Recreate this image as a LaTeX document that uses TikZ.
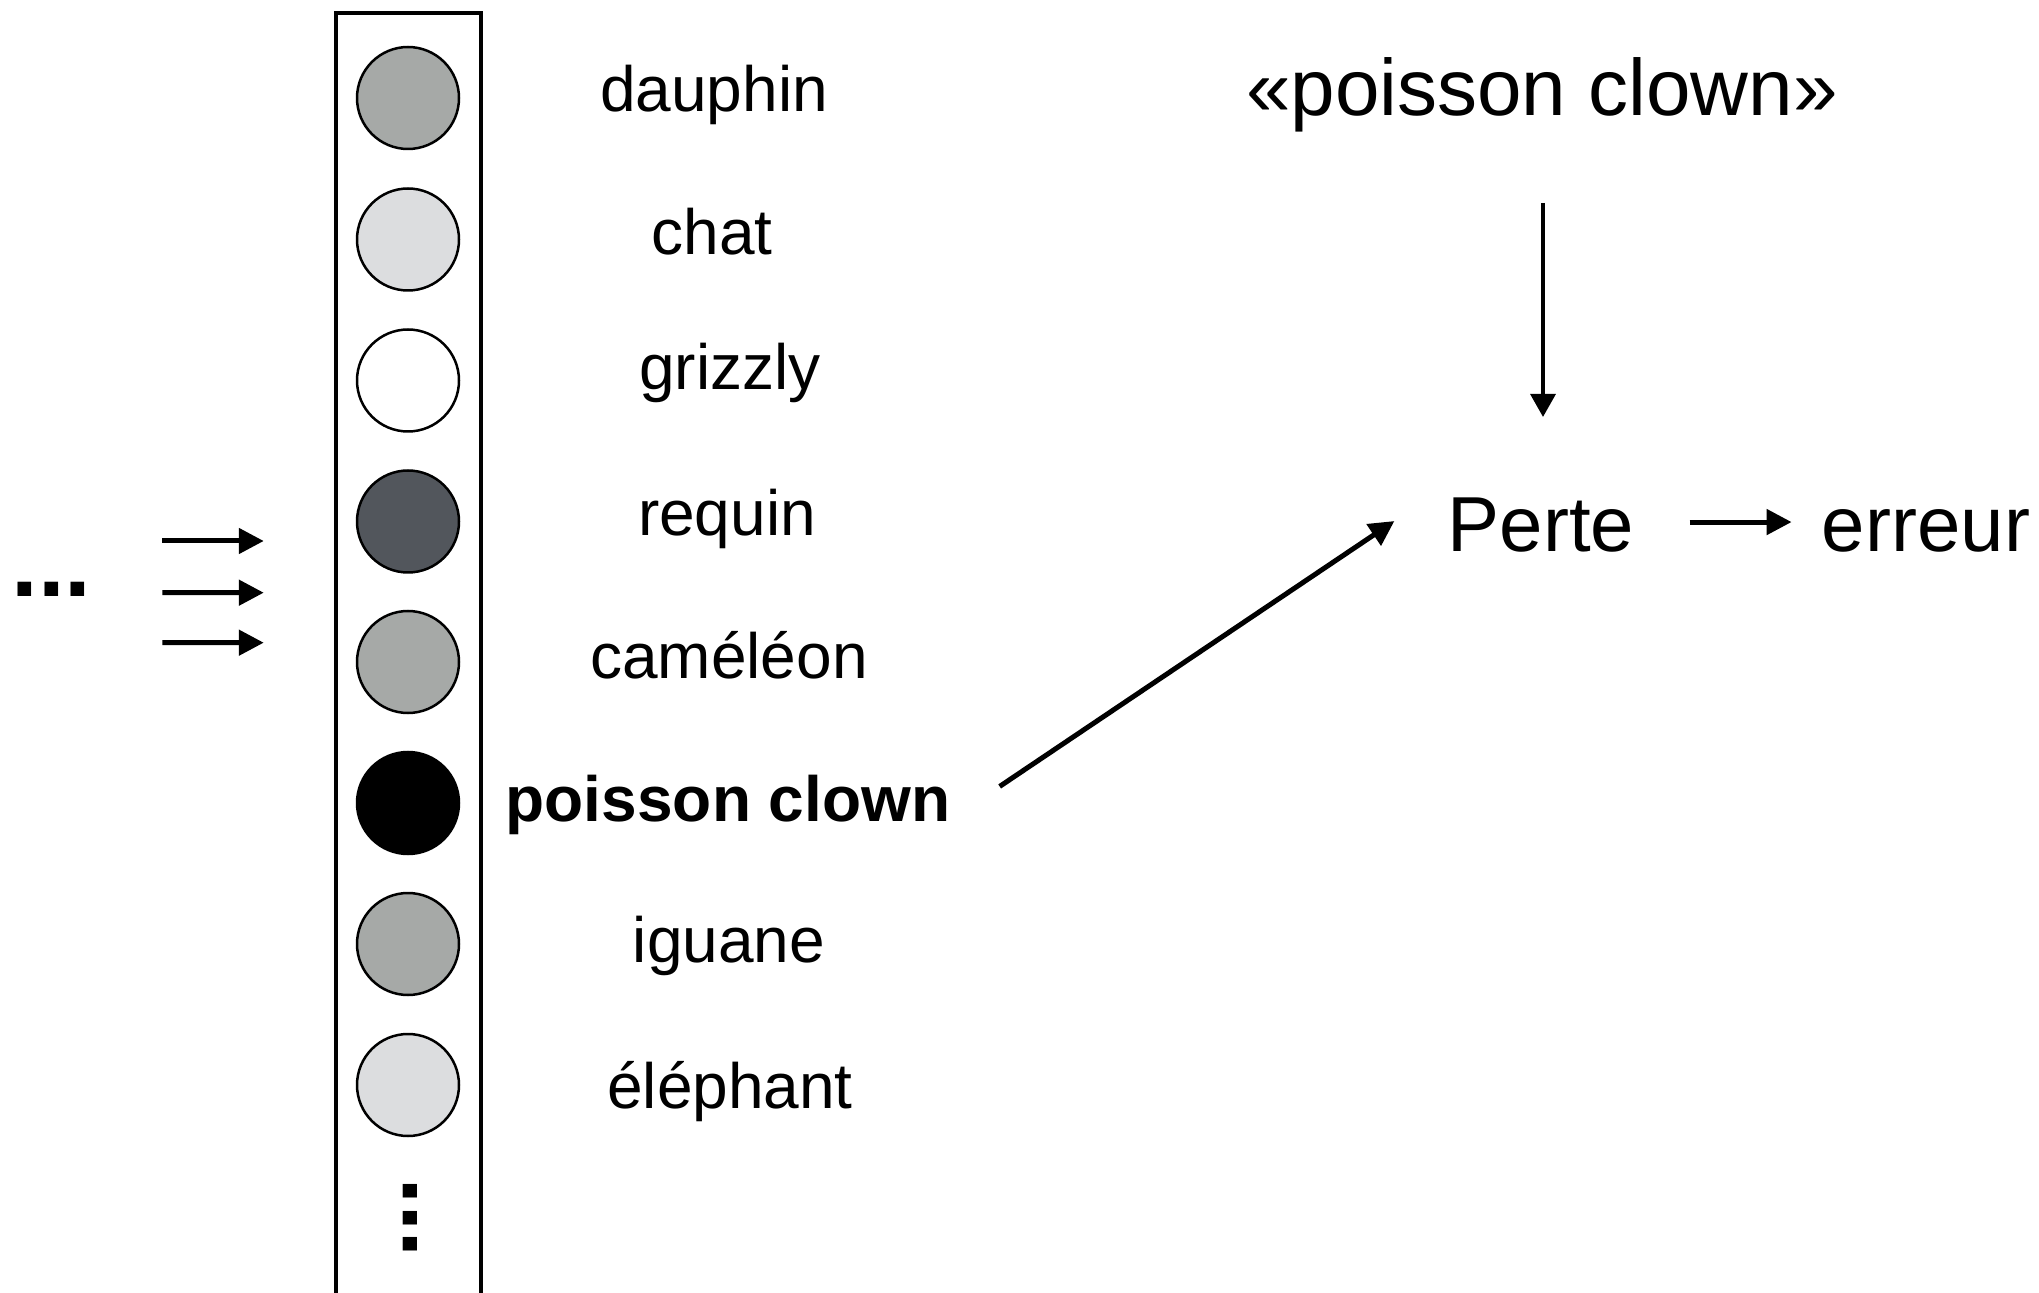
\documentclass[tikz,border=0pt]{standalone}
\usepackage{fontspec}
\setmainfont{Liberation Sans}
\usetikzlibrary{arrows.meta,calc}
\definecolor{midgray}{HTML}{A6A9A7}
\definecolor{lightgray2}{HTML}{DCDDDF}
\definecolor{darkgray2}{HTML}{52565C}
\begin{document}
\begin{tikzpicture}[x=0.5pt,y=-0.5pt,
  neuron/.style={circle,draw=black,line width=1.25pt,minimum size=51pt,inner sep=0pt},
  lbl/.style={inner sep=0pt,anchor=base,font=\fontsize{32pt}{38pt}\selectfont},
  bigtxt/.style={inner sep=0pt,anchor=base,font=\fontsize{39pt}{46pt}\selectfont},
  arr/.style={line width=2.5pt,-{Triangle[length=12.5pt,width=12.5pt]}},
  thinarr/.style={line width=1.75pt,-{Triangle[length=11.5pt,width=12.5pt]}},
  dotsstyle/.style={inner sep=0pt,font=\bfseries\fontsize{48pt}{56pt}\selectfont},
]
\useasboundingbox (0,0) rectangle (2039,1293);
\clip (0,0) rectangle (2039,1293);

% layer box (open at bottom, runs off the picture)
\node[draw,line width=2.25pt,minimum width=72.5pt,minimum height=668.5pt,inner sep=0pt] (layer) at (408.5,681.5) {};

% neurons
\node[neuron,fill=midgray]    (c1) at (408,98) {};
\node[neuron,fill=lightgray2] (c2) at (408,239.5) {};
\node[neuron,fill=white]      (c3) at (408,380.5) {};
\node[neuron,fill=darkgray2]  (c4) at (408,521.5) {};
\node[neuron,fill=midgray]    (c5) at (408,662) {};
\node[neuron,fill=black]      (c6) at (408,803) {};
\node[neuron,fill=midgray]    (c7) at (408,944) {};
\node[neuron,fill=lightgray2] (c8) at (408,1085) {};
\node[dotsstyle,rotate=90] (vdots) at (410.7,1217.7) {...};

% labels
\node[lbl] (l1) at (714,112) {dauphin};
\node[lbl] (l2) at (712,255) {chat};
\node[lbl] (l3) at (730,390) {grizzly};
\node[lbl] (l4) at (727,536) {requin};
\node[lbl] (l5) at (729,679) {caméléon};
\node[lbl,font=\bfseries\fontsize{32pt}{38pt}\selectfont] (l6) at (728,821) {poisson clown};
\node[lbl] (l7) at (729,962) {iguane};
\node[lbl] (l8) at (730,1108) {éléphant};

% left inputs
\node[dotsstyle] (hdots) at (51.5,589) {...};
\draw[arr] ($(hdots.east)+(70.5,-48)$) -- ($(layer.west)+(-70,-140.5)$);
\draw[arr] ($(hdots.east)+(70.5,3.7)$) -- ($(layer.west)+(-70,-88.8)$);
\draw[arr] ($(hdots.east)+(70.5,53.7)$) -- ($(layer.west)+(-70,-38.8)$);

% right side
\node[bigtxt,font=\fontsize{40pt}{47pt}\selectfont] (tq) at (1542,116) {«poisson clown»};
\node[bigtxt] (perte) at (1541,552) {Perte};
\node[bigtxt] (err) at (1926,552) {erreur};

\draw[thinarr] ($(tq.south)+(1,70)$) -- ($(perte.north)+(2,-81)$);
\draw[arr] ($(l6.east)+(49,-18)$) -- ($(perte.west)+(-53,-4.5)$);
\coordinate (pe) at ($(perte.east)+(55,-3.5)$);
\coordinate (ew) at ([xshift=-15pt]err.west);
\draw[arr] (pe) -- (ew |- pe);
\end{tikzpicture}
\end{document}
